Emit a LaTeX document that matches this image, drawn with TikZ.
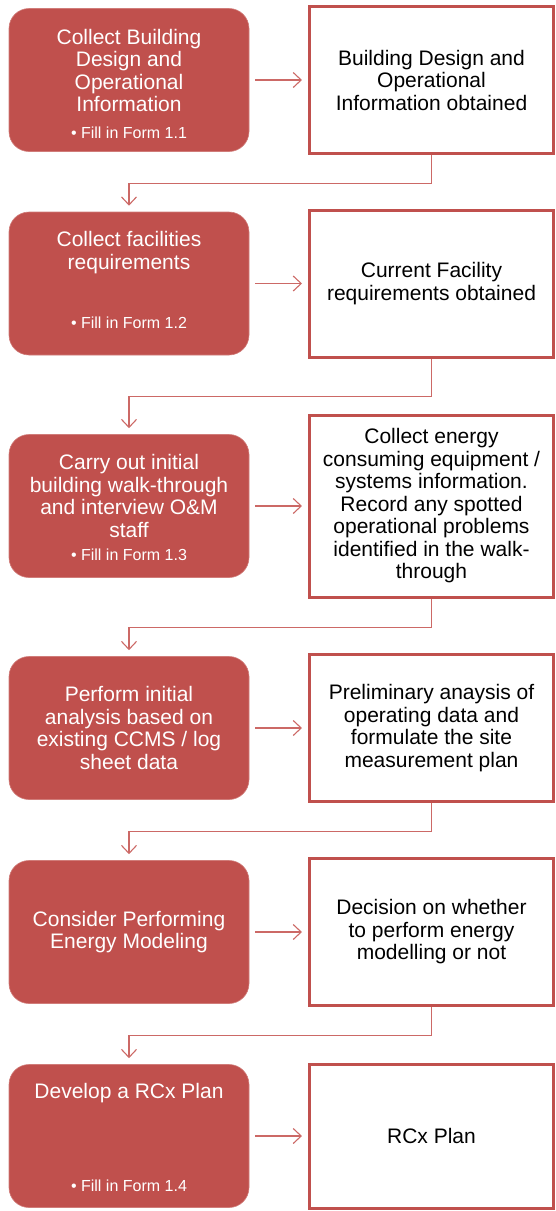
\documentclass[tikz,border=0pt]{standalone}
\usepackage{fontspec}
\setmainfont{Liberation Sans}
\usetikzlibrary{arrows.meta,calc}
\definecolor{rcxred}{HTML}{C0504D}
\definecolor{rcxline}{HTML}{CC6966}
\begin{document}
\begin{tikzpicture}[x=1pt,y=-1pt,
    stepbox/.style={rectangle, rounded corners=20pt, fill=rcxred, draw=rcxred!75!white, line width=0.6pt,
      minimum width=240pt, minimum height=143pt, inner sep=0pt, text=white, align=center,
      font=\fontsize{21}{22.5}\selectfont},
    steptext/.style={inner sep=0pt, text=white, align=center, font=\fontsize{21}{22.5}\selectfont},
    formtext/.style={inner sep=0pt, text=white, font=\fontsize{16}{18}\selectfont},
    resultbox/.style={rectangle, draw=rcxred, line width=3pt, fill=white, minimum width=244pt,
      minimum height=147pt, inner sep=0pt, align=center, font=\fontsize{21}{22.5}\selectfont},
    flow/.style={draw=rcxline, line width=1.1pt, -{Straight Barb[length=8pt,width=15pt]}, shorten >=6pt}]
        \useasboundingbox (0,0) rectangle (555,1211);
        \node [stepbox] (s1) at (129,80) {};
        \node [stepbox] (s2) at (129,283.5) {};
        \node [stepbox] (s3) at (129,506) {};
        \node [stepbox] (s4) at (129,728) {Perform initial\\analysis based on\\existing CCMS / log\\sheet data};
        \node [stepbox] (s5) at (129,932) {Consider Performing\\Energy Modeling};
        \node [stepbox] (s6) at (129,1136) {};
        \node [steptext] (s1t) at (129,70.5) {Collect Building\\Design and\\Operational\\Information};
        \node [formtext] (s1f) at (129,133) {• Fill in Form 1.1};
        \node [steptext] (s2t) at (129,252.5) {Collect facilities\\requirements};
        \node [formtext] (s2f) at (129,323) {• Fill in Form 1.2};
        \node [steptext] (s3t) at (129,496) {Carry out initial\\building walk-through\\and interview O\&M\\staff};
        \node [formtext] (s3f) at (129,555) {• Fill in Form 1.3};
        \node [steptext] (s6t) at (129,1093) {Develop a RCx Plan};
        \node [formtext] (s6f) at (129,1186) {• Fill in Form 1.4};
        \node [resultbox] (r1) at (431.5,80) {Building Design and\\Operational\\Information obtained};
        \node [resultbox] (r2) at (431.5,283.5) {Current Facility\\requirements obtained};
        \node [resultbox, minimum height=182pt] (r3) at (431.5,506) {Collect energy\\consuming equipment /\\systems information.\\Record any spotted\\operational problems\\identified in the walk-\\through};
        \node [resultbox] (r4) at (431.5,728) {Preliminary anaysis of\\operating data and\\formulate the site\\measurement plan};
        \node [resultbox] (r5) at (431.5,932) {Decision on whether\\to perform energy\\modelling or not};
        \node [resultbox, minimum height=144pt] (r6) at (431.5,1136) {RCx Plan};
        \draw [flow, shorten <=6pt] (s1) -- (r1);
        \draw [flow, shorten <=6pt] (s2) -- (r2);
        \draw [flow, shorten <=6pt] (s3) -- (r3);
        \draw [flow, shorten <=6pt] (s4) -- (r4);
        \draw [flow, shorten <=6pt] (s5) -- (r5);
        \draw [flow, shorten <=6pt] (s6) -- (r6);
        \coordinate (m1) at ($(r1.south)!0.5!(s2.north)$);
        \coordinate (m2) at ($(r2.south)!0.5!(s3.north)$);
        \coordinate (m3) at ($(r3.south)!0.5!(s4.north)$);
        \coordinate (m4) at ($(r4.south)!0.5!(s5.north)$);
        \coordinate (m5) at ($(r5.south)!0.5!(s6.north)$);
        \draw [flow] (r1.south) |- (m1) -| (s2.north);
        \draw [flow] (r2.south) |- (m2) -| (s3.north);
        \draw [flow] (r3.south) |- (m3) -| (s4.north);
        \draw [flow] (r4.south) |- (m4) -| (s5.north);
        \draw [flow] (r5.south) |- (m5) -| (s6.north);
\end{tikzpicture}
\end{document}
